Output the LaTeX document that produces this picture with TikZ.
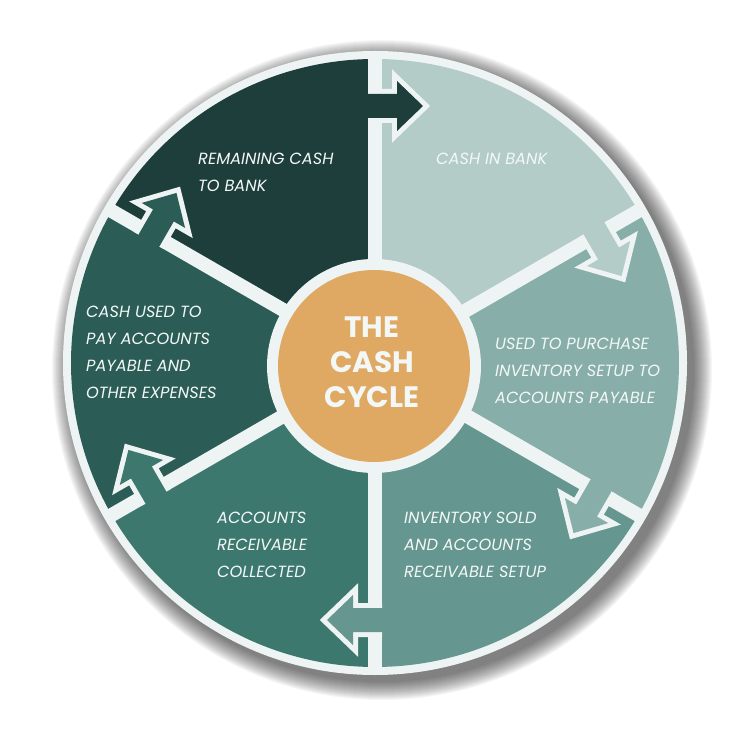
\documentclass[tikz,border=0pt]{standalone}
\usepackage{fontspec}
\newfontfamily\labfont{Poppins}
\newfontfamily\titlefont{Poppins}
\definecolor{cA}{HTML}{1E3E3B}
\definecolor{cB}{HTML}{B3CCC8}
\definecolor{cC}{HTML}{87AEA8}
\definecolor{cD}{HTML}{65968F}
\definecolor{cE}{HTML}{3D786F}
\definecolor{cF}{HTML}{2B5D56}
\definecolor{corange}{HTML}{DFA964}
\definecolor{rimwhite}{HTML}{EEF4F3}
\definecolor{txtwhite}{HTML}{F3F8F7}
\tikzset{
  lab/.style={font=\labfont\itshape\fontsize{16.2}{26.8}\selectfont, text=txtwhite, align=left, inner sep=0pt, anchor=north west},
  ttl/.style={font=\titlefont\bfseries\fontsize{29.5}{35}\selectfont, text=txtwhite, align=center, inner sep=0pt},
  divider/.style={draw=rimwhite, line width=14pt},
  arrowrim/.style={draw=rimwhite, line width=10pt, miter limit=10},
}
\begin{document}
\begin{tikzpicture}[x=1pt,y=1pt]
\useasboundingbox (-375,-388) rectangle (376,363);
% soft shadow
\foreach \r in {312,313,...,330} {\fill[black,opacity=0.034] (7,-7) circle (\r);}
% white rim
\fill[rimwhite] (0,0) circle (312);
% sectors
\fill[cA] (0,0) -- (90:304) arc[start angle=90,end angle=150,radius=304] -- cycle;
\fill[cB] (0,0) -- (30:304) arc[start angle=30,end angle=90,radius=304] -- cycle;
\fill[cC] (0,0) -- (-30:304) arc[start angle=-30,end angle=30,radius=304] -- cycle;
\fill[cD] (0,0) -- (-90:304) arc[start angle=-90,end angle=-30,radius=304] -- cycle;
\fill[cE] (0,0) -- (-150:304) arc[start angle=-150,end angle=-90,radius=304] -- cycle;
\fill[cF] (0,0) -- (150:304) arc[start angle=150,end angle=210,radius=304] -- cycle;
% dividers
\foreach \a in {90,30,-30,-90,-150,150} {\path[divider] (0,0) -- (\a:308);}
% arrows crossing the dividers, clockwise
\foreach \a/\c in {90/cA,30/cB,-30/cC,-90/cD,-150/cE,150/cF} {
  \begin{scope}[rotate=\a-90]
    \path[arrowrim] (-7,245) -- (22,245) -- (22,232) -- (48,257) -- (22,282) -- (22,269) -- (-7,269);
    \fill[\c] (-8,245) -- (22,245) -- (22,232) -- (48,257) -- (22,282) -- (22,269) -- (-8,269) -- cycle;
  \end{scope}
}
% centre
\fill[rimwhite] (-1,-3) circle (107);
\fill[corange] (-1,-3) circle (96);
\node[ttl] (title) at (-3,0.5) {THE\\CASH\\CYCLE};
% labels
\node[lab] (l1) at (-177,210) {REMAINING CASH\\TO BANK};
\node[lab] (l2) at (61,210) {CASH IN BANK};
\node[lab] (l3) at (120,25) {USED TO PURCHASE\\INVENTORY SETUP TO\\ACCOUNTS PAYABLE};
\node[lab] (l4) at (29,-149) {INVENTORY SOLD\\AND ACCOUNTS\\RECEIVABLE SETUP};
\node[lab] (l5) at (-158,-149) {ACCOUNTS\\RECEIVABLE\\COLLECTED};
\node[lab] (l6) at (-289,57) {CASH USED TO\\PAY ACCOUNTS\\PAYABLE AND\\OTHER EXPENSES};
\end{tikzpicture}
\end{document}
